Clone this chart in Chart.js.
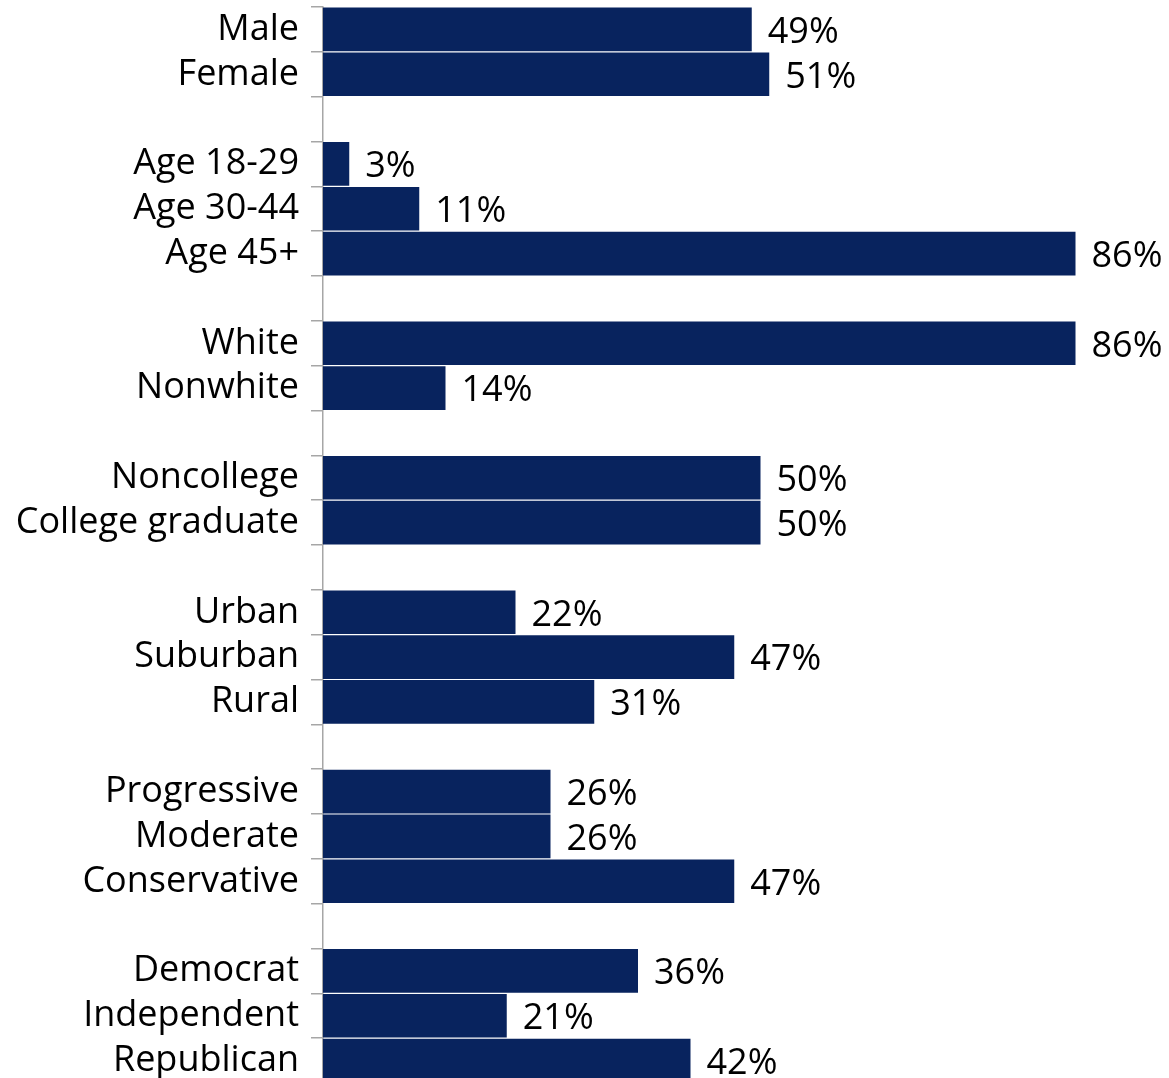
<!DOCTYPE html>
<html>
<head>
<meta charset="utf-8">
<script src="https://cdn.jsdelivr.net/npm/chart.js@4"></script>
<style>
  html, body { margin: 0; padding: 0; background: #fff; overflow: hidden; }
  canvas { display: block; }
</style>
</head>
<body>
<canvas id="chart" width="1169" height="1084"></canvas>
<script>
// groups of the profile, each separated by an empty row
const gender = ['Male', 'Female'];
const genderPct = [49, 51];
const age = ['Age 18-29', 'Age 30-44', 'Age 45+'];
const agePct = [3, 11, 86];
const race = ['White', 'Nonwhite'];
const racePct = [86, 14];
const education = ['Noncollege', 'College graduate'];
const educationPct = [50, 50];
const area = ['Urban', 'Suburban', 'Rural'];
const areaPct = [22, 47, 31];
const ideology = ['Progressive', 'Moderate', 'Conservative'];
const ideologyPct = [26, 26, 47];
const party = ['Democrat', 'Independent', 'Republican'];
const partyPct = [36, 21, 42];

const groups = [
  [gender, genderPct],
  [age, agePct],
  [race, racePct],
  [education, educationPct],
  [area, areaPct],
  [ideology, ideologyPct],
  [party, partyPct],
];

const labels = [];
const values = [];
groups.forEach(([names, pcts], i) => {
  if (i > 0) { labels.push(''); values.push(null); }
  names.forEach((n, j) => { labels.push(n); values.push(pcts[j]); });
});

const FONT = '"Segoe UI", "Open Sans", "Noto Sans", sans-serif';
const FONT_SIZE = 36;

// percent labels to the right of each bar
const valueLabels = {
  id: 'valueLabels',
  afterDatasetsDraw(chart) {
    const ctx = chart.ctx;
    const meta = chart.getDatasetMeta(0);
    ctx.save();
    ctx.font = FONT_SIZE + 'px ' + FONT;
    ctx.fillStyle = '#000';
    ctx.textAlign = 'left';
    ctx.textBaseline = 'middle';
    meta.data.forEach((bar, i) => {
      const v = values[i];
      if (v == null) return;
      ctx.fillText(v + '%', bar.x + 16, bar.y + 3);
    });
    ctx.restore();
  }
};

new Chart(document.getElementById('chart'), {
  type: 'bar',
  data: {
    labels,
    datasets: [{
      data: values,
      backgroundColor: '#08235E',
      barPercentage: 0.975,
      categoryPercentage: 1,
      borderWidth: 0
    }]
  },
  options: {
    indexAxis: 'y',
    responsive: false,
    animation: false,
    layout: { padding: { top: 7, bottom: 1, right: 6, left: 0 } },
    plugins: {
      legend: { display: false },
      tooltip: { enabled: false }
    },
    scales: {
      x: {
        display: false,
        min: 0,
        max: 96
      },
      y: {
        afterFit(scale) {
          scale.width = 323;
          // no extra room above/below for the first and last label
          scale.paddingTop = 0;
          scale.paddingBottom = 0;
        },
        grid: {
          drawOnChartArea: false,
          drawTicks: true,
          tickLength: 12,
          color: '#a6a6a6',
          lineWidth: 1.5
        },
        border: { display: true, color: '#a6a6a6', width: 1.5 },
        ticks: {
          padding: 12,
          color: '#000',
          autoSkip: false,
          font: { family: FONT, size: FONT_SIZE }
        }
      }
    }
  },
  plugins: [valueLabels]
});
</script>
</body>
</html>
